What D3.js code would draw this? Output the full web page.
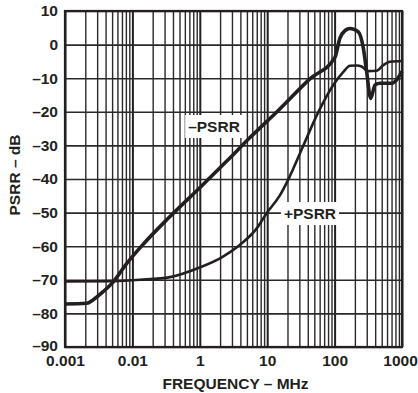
<!DOCTYPE html>
<html>
<head>
<meta charset="utf-8">
<script src="https://cdn.jsdelivr.net/npm/d3@7"></script>
<style>
  body { margin: 0; background: #fff; }
  svg { display: block; }
  text { font-family: "Liberation Sans", Arial, Helvetica, sans-serif; font-weight: bold; fill: #231f20; }
</style>
</head>
<body>
<div id="chart"></div>
<script>
// frequency axis: tick positions and the labels printed under them
var freqTicks = [0.01, 0.1, 1, 10, 100, 1000];
var freqLabels = ["0.001", "0.01", "1", "10", "100", "1000"];
var dbTicks = [-90, -80, -70, -60, -50, -40, -30, -20, -10, 0, 10];

// -PSRR curve (MHz, dB)
var negFreq = [0.01, 0.021, 0.026, 0.037, 0.052, 0.082, 0.145, 0.34, 1.0, 2.65, 5.6, 14.6, 43, 101, 120, 143, 169, 225, 267, 299, 343, 398, 472, 704, 834, 1000];
var negDb   = [-77.2, -77, -76, -73.5, -70.6, -65.2, -59.4, -51.7, -42.6, -34.2, -27.6, -19.6, -10.2, -3.8, 1.9, 4.2, 4.8, 3.8, -1.1, -8.1, -16, -12, -11.5, -11.5, -10.5, -8];

// +PSRR curve (MHz, dB)
var posFreq = [0.01, 0.052, 0.13, 0.36, 1.0, 2.0, 3.95, 7.0, 9.8, 15.5, 21.3, 34.3, 57.3, 95.6, 135, 169, 213, 252, 316, 421, 528, 663, 1000];
var posDb   = [-70.5, -70.4, -70.0, -69.2, -66.3, -63.6, -59.6, -54.7, -50.2, -44.8, -39.5, -30.1, -20.1, -12, -8.1, -6.3, -6.2, -6.5, -7.9, -7.8, -6.1, -5.1, -4.9];

var W = 418, H = 393;
var plotL = 65, plotR = 402, plotT = 11, plotB = 347;

var svg = d3.select("#chart").append("svg")
  .attr("width", W)
  .attr("height", H);

var x = d3.scaleLog().domain([0.01, 1000]).range([plotL, plotR]);
var y = d3.scaleLinear().domain([-90, 10]).range([plotB, plotT]);

// minor grid values 2..9 per decade
var minorTicks = [];
for (var e = -2; e < 3; e++) {
  for (var k = 2; k < 10; k++) {
    minorTicks.push(k * Math.pow(10, e));
  }
}

// vertical grid (minor)
svg.append("g")
  .attr("transform", "translate(0," + plotB + ")")
  .call(d3.axisBottom(x).tickValues(minorTicks).tickSize(-(plotB - plotT)).tickFormat(""))
  .call(function(g) {
    g.select(".domain").remove();
    g.selectAll("line").attr("stroke", "#2a2a2a").attr("stroke-width", 1.4);
  });

// vertical grid (decades)
svg.append("g")
  .attr("transform", "translate(0," + plotB + ")")
  .call(d3.axisBottom(x).tickValues(freqTicks).tickSize(-(plotB - plotT)).tickFormat(""))
  .call(function(g) {
    g.select(".domain").remove();
    g.selectAll("line").attr("stroke", "#231f20").attr("stroke-width", 2);
  });

// horizontal grid
svg.append("g")
  .attr("transform", "translate(" + plotL + ",0)")
  .call(d3.axisLeft(y).tickValues(dbTicks).tickSize(-(plotR - plotL)).tickFormat(""))
  .call(function(g) {
    g.select(".domain").remove();
    g.selectAll("line").attr("stroke", "#2a2a2a").attr("stroke-width", 1.6);
  });

// frame
svg.append("rect")
  .attr("x", plotL)
  .attr("y", plotT)
  .attr("width", plotR - plotL)
  .attr("height", plotB - plotT)
  .attr("fill", "none")
  .attr("stroke", "#231f20")
  .attr("stroke-width", 2.2);

// tick labels
svg.append("g")
  .attr("transform", "translate(0," + plotB + ")")
  .call(d3.axisBottom(x).tickValues(freqTicks).tickSize(0).tickPadding(8)
    .tickFormat(function(d, i) { return freqLabels[i]; }))
  .call(function(g) {
    g.select(".domain").remove();
    g.selectAll("text").attr("font-size", "15.5px").attr("font-family", null).attr("fill", null);
    g.selectAll(".tick:last-of-type text").attr("dx", "-2");
  });

svg.append("g")
  .attr("transform", "translate(" + plotL + ",0)")
  .call(d3.axisLeft(y).tickValues(dbTicks).tickSize(0).tickPadding(7)
    .tickFormat(function(d) { return d < 0 ? "\u2013" + Math.abs(d) : "" + d; }))
  .call(function(g) {
    g.select(".domain").remove();
    g.selectAll("text").attr("font-size", "15.5px").attr("font-family", null).attr("fill", null);
    g.selectAll(".tick:first-of-type text").attr("dy", "0.2em");
  });

// axis titles
svg.append("text")
  .attr("x", (plotL + plotR) / 2 + 2)
  .attr("y", 389)
  .attr("text-anchor", "middle")
  .attr("font-size", "15.5px")
  .text("FREQUENCY \u2013 MHz");

svg.append("text")
  .attr("transform", "translate(20," + ((plotT + plotB) / 2 - 4) + ") rotate(-90)")
  .attr("text-anchor", "middle")
  .attr("font-size", "15.5px")
  .text("PSRR \u2013 dB");

// curves
var line = d3.line()
  .x(function(d) { return x(d[0]); })
  .y(function(d) { return y(d[1]); })
  .curve(d3.curveMonotoneX);

svg.append("path")
  .datum(d3.zip(posFreq, posDb))
  .attr("d", line)
  .attr("fill", "none")
  .attr("stroke", "#231f20")
  .attr("stroke-width", 2.6)
  .attr("stroke-linejoin", "round");

svg.append("path")
  .datum(d3.zip(negFreq, negDb))
  .attr("d", line)
  .attr("fill", "none")
  .attr("stroke", "#231f20")
  .attr("stroke-width", 3.6)
  .attr("stroke-linejoin", "round");

// curve labels on white boxes
function curveLabel(cx, cy, label) {
  var g = svg.append("g");
  var t = g.append("text")
    .attr("x", cx)
    .attr("y", cy)
    .attr("text-anchor", "middle")
    .attr("font-size", "15.5px")
    .text(label);
  var b = t.node().getBBox();
  g.insert("rect", "text")
    .attr("x", b.x - 3)
    .attr("y", b.y - 3)
    .attr("width", b.width + 6)
    .attr("height", b.height + 6)
    .attr("fill", "#fff");
}

curveLabel(214, 132, "\u2013PSRR");
curveLabel(310, 219, "+PSRR");
</script>
</body>
</html>
